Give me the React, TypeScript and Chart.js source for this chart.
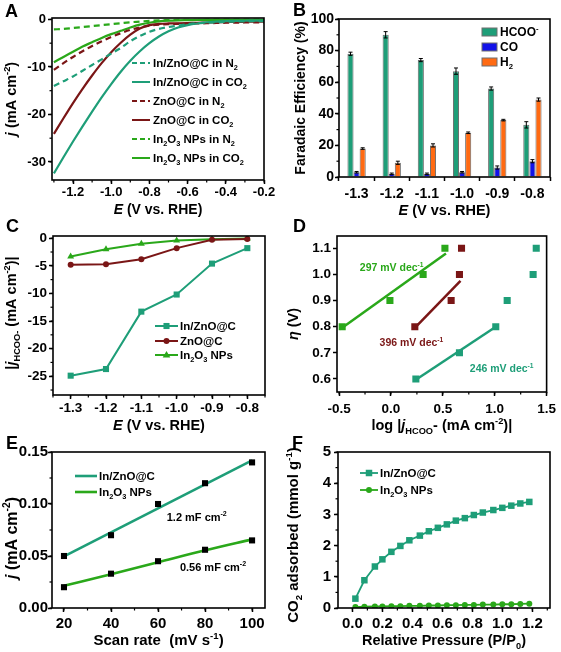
import React, { useEffect, useRef } from 'react';
import { Chart, registerables } from 'chart.js';
Chart.register(...registerables);

// ---------------- DATA ----------------
// Panel A (LSV)
const A_POT = [-1.3, -1.25, -1.2, -1.15, -1.1, -1.05, -1.0, -0.95, -0.9, -0.85, -0.8, -0.75, -0.7, -0.65, -0.6, -0.55, -0.5, -0.45, -0.4, -0.35, -0.3, -0.25, -0.2];
const A_INZNO_N2 = [-14.0, -13.0, -12.0, -10.8, -9.6, -8.4, -7.2, -6.0, -4.6, -3.5, -2.6, -2.0, -1.6, -1.3, -1.0, -0.8, -0.7, -0.6, -0.5, -0.45, -0.4, -0.38, -0.35];
const A_INZNO_CO2 = [-32.4, -29.0, -25.7, -22.5, -19.4, -16.4, -13.6, -11.0, -8.7, -6.7, -5.0, -3.6, -2.5, -1.7, -1.2, -0.85, -0.6, -0.45, -0.35, -0.3, -0.28, -0.25, -0.25];
const A_ZNO_N2 = [-10.6, -9.2, -7.9, -6.7, -5.6, -4.6, -3.7, -2.9, -2.2, -1.7, -1.3, -1.1, -1.0, -0.95, -0.9, -0.85, -0.8, -0.75, -0.7, -0.68, -0.65, -0.62, -0.6];
const A_ZNO_CO2 = [-24.1, -20.8, -17.6, -14.6, -11.8, -9.2, -6.9, -4.9, -3.2, -1.9, -1.2, -0.95, -0.85, -0.8, -0.75, -0.7, -0.65, -0.6, -0.55, -0.5, -0.5, -0.45, -0.45];
const A_IN2O3_N2 = [-2.1, -2.0, -1.8, -1.6, -1.4, -1.2, -1.0, -0.8, -0.6, -0.45, -0.3, -0.2, -0.15, -0.1, -0.1, -0.08, -0.06, -0.05, -0.05, -0.05, -0.05, -0.05, -0.05];
const A_IN2O3_CO2 = [-9.0, -7.9, -6.8, -5.7, -4.8, -3.9, -3.1, -2.4, -1.7, -1.1, -0.7, -0.4, -0.25, -0.18, -0.15, -0.12, -0.1, -0.1, -0.1, -0.1, -0.1, -0.1, -0.1];
const A_XTICKS = [-1.2, -1.0, -0.8, -0.6, -0.4, -0.2];
const A_YTICKS = [0, -10, -20, -30];
const A_LABELS = ['In/ZnO@C in N_{2}', 'In/ZnO@C in CO_{2}', 'ZnO@C in N_{2}', 'ZnO@C in CO_{2}', 'In_{2}O_{3} NPs in N_{2}', 'In_{2}O_{3} NPs in CO_{2}'];

// Panel B (Faradaic efficiency)
const B_CATS = ['-1.3', '-1.2', '-1.1', '-1.0', '-0.9', '-0.8'];
const B_HCOO = [78, 90, 74, 67, 56, 33];
const B_HCOO_ERR = [1, 2, 1, 2, 1, 2];
const B_CO = [3, 2, 2, 3, 6, 10];
const B_CO_ERR = [0.5, 0.5, 0.5, 0.5, 1, 1];
const B_H2 = [18, 9, 20, 28, 36, 49];
const B_H2_ERR = [0.5, 1, 1, 0.5, 0.5, 1];
const B_YTICKS = [0, 20, 40, 60, 80, 100];
const B_LABELS = ['HCOO^{-}', 'CO', 'H_{2}'];

// Panel C (partial current density)
const C_POT = [-1.3, -1.2, -1.1, -1.0, -0.9, -0.8];
const C_INZNO = [-24.9, -23.7, -13.3, -10.2, -4.6, -1.8];
const C_ZNO = [-4.8, -4.7, -3.8, -1.8, -0.3, -0.15];
const C_IN2O3 = [-3.3, -2.0, -1.0, -0.4, -0.2, -0.05];
const C_XTICKS = [-1.3, -1.2, -1.1, -1.0, -0.9, -0.8];
const C_YTICKS = [0, -5, -10, -15, -20, -25];
const C_LABELS = ['In/ZnO@C', 'ZnO@C', 'In_{2}O_{3} NPs'];

// Panel D (Tafel)
const D_LOG_IN2O3 = [-0.47, -0.01, 0.31, 0.52];
const D_ETA_IN2O3 = [0.8, 0.9, 1.0, 1.1];
const D_LOG_ZNO = [0.23, 0.58, 0.66, 0.68];
const D_ETA_ZNO = [0.8, 0.9, 1.0, 1.1];
const D_LOG_INZNO = [0.24, 0.66, 1.01, 1.12, 1.37, 1.4];
const D_ETA_INZNO = [0.6, 0.7, 0.8, 0.9, 1.0, 1.1];
const D_FIT_IN2O3_X = [-0.49, 0.53];
const D_FIT_IN2O3_Y = [0.79, 1.08];
const D_FIT_ZNO_X = [0.23, 0.67];
const D_FIT_ZNO_Y = [0.795, 0.975];
const D_FIT_INZNO_X = [0.24, 1.0];
const D_FIT_INZNO_Y = [0.597, 0.797];
const D_XTICKS = [-0.5, 0, 0.5, 1.0, 1.5];
const D_YTICKS = [0.6, 0.7, 0.8, 0.9, 1.0, 1.1];
const D_NOTES = ['297 mV dec^{-1}', '396 mV dec^{-1}', '246 mV dec^{-1}'];
const D_NOTE_X = [-0.3, -0.11, 0.76];
const D_NOTE_Y = [1.026, 0.74, 0.64];

// Panel E (double layer capacitance)
const E_RATE = [20, 40, 60, 80, 100];
const E_INZNO = [0.05, 0.07, 0.10, 0.12, 0.14];
const E_IN2O3 = [0.02, 0.033, 0.045, 0.056, 0.065];
const E_FIT_INZNO_X = [20, 100];
const E_FIT_INZNO_Y = [0.0496, 0.142];
const E_FIT_IN2O3 = [0.0214, 0.0325, 0.044, 0.0555, 0.066];
const E_XTICKS = [20, 40, 60, 80, 100];
const E_YTICKS = [0, 0.05, 0.10, 0.15];
const E_LABELS = ['In/ZnO@C', 'In_{2}O_{3} NPs'];
const E_NOTES = ['1.2 mF cm^{-2}', '0.56 mF cm^{-2}'];
const E_NOTE_X = [63.7, 69.3];
const E_NOTE_Y = [0.0875, 0.0394];

// Panel F (CO2 adsorption)
const F_P = [0.02, 0.08, 0.15, 0.2, 0.26, 0.32, 0.38, 0.45, 0.51, 0.57, 0.63, 0.69, 0.75, 0.81, 0.87, 0.94, 1.0, 1.06, 1.12, 1.18];
const F_INZNO = [0.30, 0.89, 1.33, 1.56, 1.80, 1.99, 2.17, 2.32, 2.46, 2.57, 2.68, 2.80, 2.88, 2.98, 3.06, 3.14, 3.21, 3.28, 3.35, 3.40];
const F_IN2O3 = [0.03, 0.04, 0.05, 0.05, 0.06, 0.06, 0.07, 0.07, 0.08, 0.08, 0.09, 0.09, 0.10, 0.10, 0.11, 0.11, 0.12, 0.12, 0.13, 0.14];
const F_XTICKS = [0, 0.2, 0.4, 0.6, 0.8, 1.0, 1.2];
const F_YTICKS = [0, 1, 2, 3, 4, 5];
const F_LABELS = ['In/ZnO@C', 'In_{2}O_{3} NPs'];

// ---------------- STYLE ----------------
const FONT = '"Liberation Sans", Arial, Helvetica, sans-serif';
const TEAL = '#1e9e78';
const MAROON = '#7a1616';
const GREEN = '#2aa81a';
const BLUE = '#1212e8';
const ORANGE = '#ff6a12';

type Box = { x: number; y: number; w: number; h: number };
type Area = { l: number; t: number; r: number; b: number };

const zip = (xs: number[], ys: number[]) => xs.map((x, i) => ({ x, y: ys[i] }));

type Seg = { t: string; it: boolean; sup: boolean; sub: boolean };
function parseRich(s: string): Seg[] {
  const out: Seg[] = [];
  let it = false;
  let buf = '';
  let i = 0;
  const push = (t: string, sup: boolean, sub: boolean) => {
    if (t) out.push({ t, it, sup, sub });
  };
  while (i < s.length) {
    const c = s[i];
    if (c === '*') {
      push(buf, false, false);
      buf = '';
      it = !it;
      i++;
      continue;
    }
    if ((c === '_' || c === '^') && s[i + 1] === '{') {
      push(buf, false, false);
      buf = '';
      const end = s.indexOf('}', i);
      push(s.slice(i + 2, end), c === '^', c === '_');
      i = end + 1;
      continue;
    }
    buf += c;
    i++;
  }
  push(buf, false, false);
  return out;
}

function drawRich(ctx: CanvasRenderingContext2D, text: string, x: number, y: number, size: number, color: string, align: 'left' | 'center', rot = false) {
  const segs = parseRich(text);
  const font = (s: Seg) => `${s.it ? 'italic ' : ''}bold ${s.sup || s.sub ? size * 0.64 : size}px ${FONT}`;
  ctx.save();
  ctx.translate(x, y);
  if (rot) ctx.rotate(-Math.PI / 2);
  let w = 0;
  for (const s of segs) {
    ctx.font = font(s);
    w += ctx.measureText(s.t).width;
  }
  let cx = align === 'center' ? -w / 2 : 0;
  ctx.fillStyle = color;
  ctx.textAlign = 'left';
  ctx.textBaseline = 'alphabetic';
  const base = size * 0.36;
  for (const s of segs) {
    ctx.font = font(s);
    const dy = s.sup ? -size * 0.42 : s.sub ? size * 0.26 : 0;
    ctx.fillText(s.t, cx, base + dy);
    cx += ctx.measureText(s.t).width;
  }
  ctx.restore();
}

function drawMarker(ctx: CanvasRenderingContext2D, kind: string, x: number, y: number, r: number, color: string) {
  ctx.save();
  ctx.fillStyle = color;
  ctx.beginPath();
  if (kind === 'rect') {
    const s = r * Math.SQRT1_2;
    ctx.rect(x - s, y - s, 2 * s, 2 * s);
  } else if (kind === 'circle') {
    ctx.arc(x, y, r, 0, Math.PI * 2);
  } else if (kind === 'triangle') {
    ctx.moveTo(x, y - r);
    ctx.lineTo(x + r * 0.95, y + r * 0.6);
    ctx.lineTo(x - r * 0.95, y + r * 0.6);
    ctx.closePath();
  }
  ctx.fill();
  ctx.restore();
}

type LegendItem = { kind: 'line' | 'box'; color: string; text: string; dash?: number[]; width?: number; marker?: string; mr?: number };
type Note = { x: number; y: number; text: string; color: string };

type DecoOpts = {
  box: Box;
  letter: string;
  letterAt: [number, number];
  xTitle: string;
  xTitleY: number;
  xTitleSize: number;
  yTitle: string;
  yTitleX: number;
  yTitleY: number;
  yTitleSize: number;
  minorX?: number;
  minorY?: number;
  legend: LegendItem[];
  legendRows: number[];
  legendX0: number;
  legendX1: number;
  legendTextX: number;
  legendSize: number;
  notes?: Note[];
  noteSize?: number;
  errors?: number[][];
};

function deco(o: DecoOpts) {
  return {
    id: 'deco' + o.letter,
    afterDatasetsDraw(chart: any) {
      if (!o.errors) return;
      const ctx: CanvasRenderingContext2D = chart.ctx;
      const ys = chart.scales.y;
      ctx.save();
      ctx.strokeStyle = '#000';
      ctx.lineWidth = 1;
      o.errors.forEach((errs, d) => {
        const meta = chart.getDatasetMeta(d);
        const vals = chart.data.datasets[d].data as number[];
        meta.data.forEach((el: any, i: number) => {
          const v = vals[i];
          const e = errs[i];
          const y1 = ys.getPixelForValue(v + e);
          const y2 = ys.getPixelForValue(v - e);
          ctx.beginPath();
          ctx.moveTo(el.x, y1);
          ctx.lineTo(el.x, y2);
          ctx.moveTo(el.x - 2, y1);
          ctx.lineTo(el.x + 2, y1);
          ctx.moveTo(el.x - 2, y2);
          ctx.lineTo(el.x + 2, y2);
          ctx.stroke();
        });
      });
      ctx.restore();
    },
    afterDraw(chart: any) {
      const ctx: CanvasRenderingContext2D = chart.ctx;
      const { left, top, right, bottom } = chart.chartArea;
      const ox = o.box.x;
      const oy = o.box.y;
      ctx.save();
      // frame
      ctx.strokeStyle = '#000';
      ctx.lineWidth = 1.6;
      ctx.strokeRect(left, top, right - left, bottom - top);
      // minor ticks
      ctx.lineWidth = 1.2;
      const minor = (scale: any, step: number, horiz: boolean) => {
        const k0 = Math.ceil(scale.min / step - 1e-6);
        for (let k = k0; k * step <= scale.max + 1e-6; k++) {
          const p = scale.getPixelForValue(k * step);
          ctx.beginPath();
          if (horiz) {
            ctx.moveTo(p, bottom);
            ctx.lineTo(p, bottom + 2.5);
          } else {
            ctx.moveTo(left, p);
            ctx.lineTo(left - 2.5, p);
          }
          ctx.stroke();
        }
      };
      if (o.minorX) minor(chart.scales.x, o.minorX, true);
      if (o.minorY) minor(chart.scales.y, o.minorY, false);
      // panel letter
      drawRich(ctx, o.letter, o.letterAt[0] - ox, o.letterAt[1] - oy, 18, '#000', 'left');
      // axis titles
      drawRich(ctx, o.xTitle, (left + right) / 2, o.xTitleY - oy, o.xTitleSize, '#000', 'center');
      drawRich(ctx, o.yTitle, o.yTitleX - ox, o.yTitleY - oy, o.yTitleSize, '#000', 'center', true);
      // legend
      o.legend.forEach((it, i) => {
        const y = o.legendRows[i] - oy;
        const x0 = o.legendX0 - ox;
        const x1 = o.legendX1 - ox;
        if (it.kind === 'box') {
          ctx.fillStyle = it.color;
          ctx.fillRect(x0, y - 4, x1 - x0, 8);
          ctx.strokeStyle = '#6f6f6f';
          ctx.lineWidth = 1;
          ctx.strokeRect(x0, y - 4, x1 - x0, 8);
        } else {
          ctx.strokeStyle = it.color;
          ctx.lineWidth = it.width || 2;
          ctx.setLineDash(it.dash || []);
          ctx.beginPath();
          ctx.moveTo(x0, y);
          ctx.lineTo(x1, y);
          ctx.stroke();
          ctx.setLineDash([]);
          if (it.marker) drawMarker(ctx, it.marker, (x0 + x1) / 2, y, it.mr || 4, it.color);
        }
        drawRich(ctx, it.text, o.legendTextX - ox, y, o.legendSize, '#000', 'left');
      });
      // annotations in data coordinates
      (o.notes || []).forEach((n) => {
        const x = chart.scales.x.getPixelForValue(n.x);
        const y = chart.scales.y.getPixelForValue(n.y);
        drawRich(ctx, n.text, x, y, o.noteSize || 11, n.color, 'left');
      });
      ctx.restore();
    },
  };
}

const gridOpt = {
  display: true,
  drawOnChartArea: false,
  drawTicks: true,
  tickLength: 4,
  tickWidth: 1.5,
  tickColor: '#000',
  color: '#000',
};

function lin(kind: 'x' | 'y', min: number, max: number, ticks: number[], digits: number, fit: number, fs: number, pad: number) {
  return {
    type: 'linear',
    position: kind === 'x' ? 'bottom' : 'left',
    min,
    max,
    afterBuildTicks: (s: any) => {
      s.ticks = ticks.map((v) => ({ value: v }));
    },
    afterFit: (s: any) => {
      if (kind === 'x') s.height = fit;
      else s.width = fit;
    },
    ticks: {
      autoSkip: false,
      maxRotation: 0,
      minRotation: 0,
      padding: pad,
      color: '#000',
      font: { family: FONT, size: fs, weight: 'bold' },
      callback: (v: any) => Number(v).toFixed(digits),
    },
    grid: gridOpt,
    border: { display: false },
    title: { display: false },
  };
}

function baseOptions(box: Box, area: Area, scales: any) {
  return {
    responsive: false,
    maintainAspectRatio: false,
    animation: false,
    devicePixelRatio: 1,
    events: [],
    layout: {
      autoPadding: false,
      padding: { left: 0, bottom: 0, top: area.t - box.y, right: box.x + box.w - area.r },
    },
    plugins: { legend: { display: false }, tooltip: { enabled: false }, title: { display: false } },
    scales,
  };
}

// ---------------- PANELS ----------------
const BOX_A: Box = { x: 0, y: 0, w: 280, h: 228 };
const AREA_A: Area = { l: 52, t: 18, r: 264, b: 180 };
const BOX_B: Box = { x: 280, y: 0, w: 281, h: 228 };
const AREA_B: Area = { l: 339, t: 19, r: 550, b: 177 };
const BOX_C: Box = { x: 0, y: 215, w: 280, h: 228 };
const AREA_C: Area = { l: 53, t: 236, r: 265, b: 395 };
const BOX_D: Box = { x: 280, y: 215, w: 281, h: 228 };
const AREA_D: Area = { l: 337, t: 236, r: 550, b: 392 };
const BOX_E: Box = { x: 0, y: 430, w: 280, h: 222 };
const AREA_E: Area = { l: 52, t: 452, r: 265, b: 608 };
const BOX_F: Box = { x: 280, y: 430, w: 281, h: 222 };
const AREA_F: Area = { l: 338, t: 452, r: 550, b: 608 };

const fitW = (box: Box, a: Area) => a.l - box.x;
const fitH = (box: Box, a: Area) => box.y + box.h - a.b;

function lsv(data: number[], color: string, dashed: boolean) {
  return {
    data: zip(A_POT, data),
    borderColor: color,
    borderWidth: 2.2,
    borderDash: dashed ? [6, 4] : [],
    pointRadius: 0,
    fill: false,
    cubicInterpolationMode: 'monotone',
  };
}

function makeA() {
  return {
    type: 'line',
    data: {
      datasets: [
        lsv(A_INZNO_N2, TEAL, true),
        lsv(A_INZNO_CO2, TEAL, false),
        lsv(A_ZNO_N2, MAROON, true),
        lsv(A_ZNO_CO2, MAROON, false),
        lsv(A_IN2O3_N2, GREEN, true),
        lsv(A_IN2O3_CO2, GREEN, false),
      ],
    },
    options: baseOptions(BOX_A, AREA_A, {
      x: lin('x', -1.31, -0.2, A_XTICKS, 1, fitH(BOX_A, AREA_A), 13, 1),
      y: lin('y', -33.8, 0.3, A_YTICKS, 0, fitW(BOX_A, AREA_A), 13, 2),
    }),
    plugins: [
      deco({
        box: BOX_A, letter: 'A', letterAt: [5, 11],
        xTitle: '*E* (V vs. RHE)', xTitleY: 209, xTitleSize: 14,
        yTitle: '*j* (mA cm^{-2})', yTitleX: 11, yTitleY: 99, yTitleSize: 14.5,
        minorX: 0.1, minorY: 5,
        legend: [
          { kind: 'line', color: TEAL, dash: [5, 3], text: A_LABELS[0] },
          { kind: 'line', color: TEAL, text: A_LABELS[1] },
          { kind: 'line', color: MAROON, dash: [5, 3], text: A_LABELS[2] },
          { kind: 'line', color: MAROON, text: A_LABELS[3] },
          { kind: 'line', color: GREEN, dash: [5, 3], text: A_LABELS[4] },
          { kind: 'line', color: GREEN, text: A_LABELS[5] },
        ],
        legendRows: [63, 82, 101, 120, 139, 158], legendX0: 132, legendX1: 150, legendTextX: 153, legendSize: 11.5,
      }),
    ],
  };
}

function makeB() {
  const bar = (label: string, data: number[], color: string) => ({
    label, data, backgroundColor: color, borderColor: '#6a6a6a', borderWidth: 1,
    categoryPercentage: 0.52, barPercentage: 1.0,
  });
  return {
    type: 'bar',
    data: {
      labels: B_CATS,
      datasets: [bar('HCOO-', B_HCOO, TEAL), bar('CO', B_CO, BLUE), bar('H2', B_H2, ORANGE)],
    },
    options: baseOptions(BOX_B, AREA_B, {
      x: {
        type: 'category', position: 'bottom', offset: true,
        afterFit: (s: any) => { s.height = fitH(BOX_B, AREA_B); },
        ticks: { autoSkip: false, maxRotation: 0, minRotation: 0, padding: 5, color: '#000', font: { family: FONT, size: 14, weight: 'bold' } },
        grid: { ...gridOpt, offset: true },
        border: { display: false },
      },
      y: lin('y', 0, 100, B_YTICKS, 0, fitW(BOX_B, AREA_B), 14, 1),
    }),
    plugins: [
      deco({
        box: BOX_B, letter: 'B', letterAt: [293, 10],
        xTitle: '*E* (V vs. RHE)', xTitleY: 210, xTitleSize: 14.5,
        yTitle: 'Faradaic Efficiency (%)', yTitleX: 300, yTitleY: 98, yTitleSize: 14,
        minorY: 10,
        legend: [
          { kind: 'box', color: TEAL, text: B_LABELS[0] },
          { kind: 'box', color: BLUE, text: B_LABELS[1] },
          { kind: 'box', color: ORANGE, text: B_LABELS[2] },
        ],
        legendRows: [32, 47, 62], legendX0: 482, legendX1: 497, legendTextX: 500, legendSize: 12,
        errors: [B_HCOO_ERR, B_CO_ERR, B_H2_ERR],
      }),
    ],
  };
}

function makeC() {
  const ser = (data: number[], color: string, style: string, r: number) => ({
    data: zip(C_POT, data), borderColor: color, backgroundColor: color, borderWidth: 2,
    pointStyle: style, pointRadius: r, pointBorderWidth: 0, fill: false, tension: 0,
  });
  return {
    type: 'line',
    data: {
      datasets: [
        ser(C_INZNO, TEAL, 'rect', 4.3),
        ser(C_ZNO, MAROON, 'circle', 3),
        ser(C_IN2O3, GREEN, 'triangle', 4),
      ],
    },
    options: baseOptions(BOX_C, AREA_C, {
      x: lin('x', -1.35, -0.75, C_XTICKS, 1, fitH(BOX_C, AREA_C), 13.5, 1),
      y: lin('y', -28.4, 0.4, C_YTICKS, 0, fitW(BOX_C, AREA_C), 13.5, 2),
    }),
    plugins: [
      deco({
        box: BOX_C, letter: 'C', letterAt: [6, 226],
        xTitle: '*E* (V vs. RHE)', xTitleY: 425, xTitleSize: 14.5,
        yTitle: '|*j*_{HCOO-} (mA cm^{-2})|', yTitleX: 11, yTitleY: 313, yTitleSize: 14.5,
        minorX: 0.05, minorY: 2.5,
        legend: [
          { kind: 'line', color: TEAL, marker: 'rect', mr: 4.3, text: C_LABELS[0] },
          { kind: 'line', color: MAROON, marker: 'circle', mr: 3, text: C_LABELS[1] },
          { kind: 'line', color: GREEN, marker: 'triangle', mr: 4, text: C_LABELS[2] },
        ],
        legendRows: [326, 341, 355], legendX0: 155, legendX1: 178, legendTextX: 180, legendSize: 11.5,
      }),
    ],
  };
}

function makeD() {
  const pts = (xs: number[], ys: number[], color: string) => ({
    data: zip(xs, ys), showLine: false, backgroundColor: color, borderColor: color,
    pointStyle: 'rect', pointRadius: 5, pointBorderWidth: 0, order: 0,
  });
  const fit = (xs: number[], ys: number[], color: string) => ({
    data: zip(xs, ys), borderColor: color, borderWidth: 2.5, pointRadius: 0, fill: false, order: 1,
  });
  return {
    type: 'line',
    data: {
      datasets: [
        pts(D_LOG_IN2O3, D_ETA_IN2O3, GREEN),
        pts(D_LOG_ZNO, D_ETA_ZNO, MAROON),
        pts(D_LOG_INZNO, D_ETA_INZNO, TEAL),
        fit(D_FIT_IN2O3_X, D_FIT_IN2O3_Y, GREEN),
        fit(D_FIT_ZNO_X, D_FIT_ZNO_Y, MAROON),
        fit(D_FIT_INZNO_X, D_FIT_INZNO_Y, TEAL),
      ],
    },
    options: baseOptions(BOX_D, AREA_D, {
      x: lin('x', -0.52, 1.5, D_XTICKS, 1, fitH(BOX_D, AREA_D), 13.5, 5),
      y: lin('y', 0.55, 1.147, D_YTICKS, 1, fitW(BOX_D, AREA_D), 13.5, 2),
    }),
    plugins: [
      deco({
        box: BOX_D, letter: 'D', letterAt: [293, 226],
        xTitle: 'log |*j*_{HCOO}- (mA cm^{-2})|', xTitleY: 425, xTitleSize: 14.5,
        yTitle: '*η* (V)', yTitleX: 293, yTitleY: 324, yTitleSize: 14.5,
        minorX: 0.25,
        legend: [], legendRows: [], legendX0: 0, legendX1: 0, legendTextX: 0, legendSize: 11,
        notes: [
          { x: D_NOTE_X[0], y: D_NOTE_Y[0], text: D_NOTES[0], color: GREEN },
          { x: D_NOTE_X[1], y: D_NOTE_Y[1], text: D_NOTES[1], color: MAROON },
          { x: D_NOTE_X[2], y: D_NOTE_Y[2], text: D_NOTES[2], color: TEAL },
        ],
        noteSize: 10.5,
      }),
    ],
  };
}

function makeE() {
  return {
    type: 'line',
    data: {
      datasets: [
        { data: zip(E_RATE, E_INZNO), showLine: false, backgroundColor: '#000', borderColor: '#000', pointStyle: 'rect', pointRadius: 4.3, pointBorderWidth: 0, order: 0 },
        { data: zip(E_RATE, E_IN2O3), showLine: false, backgroundColor: '#000', borderColor: '#000', pointStyle: 'rect', pointRadius: 4.3, pointBorderWidth: 0, order: 0 },
        { data: zip(E_FIT_INZNO_X, E_FIT_INZNO_Y), borderColor: TEAL, borderWidth: 2.6, pointRadius: 0, fill: false, order: 1 },
        { data: zip(E_RATE, E_FIT_IN2O3), borderColor: GREEN, borderWidth: 2.6, pointRadius: 0, fill: false, cubicInterpolationMode: 'monotone', order: 1 },
      ],
    },
    options: baseOptions(BOX_E, AREA_E, {
      x: lin('x', 14.9, 105.5, E_XTICKS, 0, fitH(BOX_E, AREA_E), 15, 3),
      y: lin('y', 0, 0.15, E_YTICKS, 2, fitW(BOX_E, AREA_E), 15, 0),
    }),
    plugins: [
      deco({
        box: BOX_E, letter: 'E', letterAt: [6, 443],
        xTitle: 'Scan rate  (mV s^{-1})', xTitleY: 640, xTitleSize: 15,
        yTitle: '*j* (mA cm^{-2})', yTitleX: 11, yTitleY: 538, yTitleSize: 16,
        minorX: 10, minorY: 0.025,
        legend: [
          { kind: 'line', color: TEAL, width: 2.6, text: E_LABELS[0] },
          { kind: 'line', color: GREEN, width: 2.6, text: E_LABELS[1] },
        ],
        legendRows: [476, 492], legendX0: 75, legendX1: 97, legendTextX: 99, legendSize: 11.5,
        notes: [
          { x: E_NOTE_X[0], y: E_NOTE_Y[0], text: E_NOTES[0], color: '#000' },
          { x: E_NOTE_X[1], y: E_NOTE_Y[1], text: E_NOTES[1], color: '#000' },
        ],
        noteSize: 11,
      }),
    ],
  };
}

function makeF() {
  return {
    type: 'line',
    data: {
      datasets: [
        { data: zip(F_P, F_INZNO), borderColor: TEAL, backgroundColor: TEAL, borderWidth: 1.8, pointStyle: 'rect', pointRadius: 4.6, pointBorderWidth: 0, fill: false, tension: 0 },
        { data: zip(F_P, F_IN2O3), borderColor: GREEN, backgroundColor: GREEN, borderWidth: 1.8, pointStyle: 'circle', pointRadius: 3, pointBorderWidth: 0, fill: false, tension: 0 },
      ],
    },
    options: baseOptions(BOX_F, AREA_F, {
      x: lin('x', -0.096, 1.318, F_XTICKS, 1, fitH(BOX_F, AREA_F), 15, 3),
      y: lin('y', 0, 5, F_YTICKS, 0, fitW(BOX_F, AREA_F), 15, 3),
    }),
    plugins: [
      deco({
        box: BOX_F, letter: 'F', letterAt: [292, 443],
        xTitle: 'Relative Pressure (P/P_{0})', xTitleY: 640, xTitleSize: 14.5,
        yTitle: 'CO_{2} adsorbed (mmol g^{-1})', yTitleX: 293, yTitleY: 535, yTitleSize: 15,
        minorX: 0.1, minorY: 0.5,
        legend: [
          { kind: 'line', color: TEAL, width: 1.8, marker: 'rect', mr: 4.6, text: F_LABELS[0] },
          { kind: 'line', color: GREEN, width: 1.8, marker: 'circle', mr: 3, text: F_LABELS[1] },
        ],
        legendRows: [473, 490], legendX0: 360, legendX1: 378, legendTextX: 380, legendSize: 11.5,
      }),
    ],
  };
}

function ChartPanel({ box, make }: { box: Box; make: () => any }) {
  const ref = useRef<HTMLCanvasElement>(null);
  useEffect(() => {
    const chart = new Chart(ref.current as HTMLCanvasElement, make());
    return () => chart.destroy();
  }, []);
  return (
    <canvas
      ref={ref}
      width={box.w}
      height={box.h}
      style={{ position: 'absolute', left: box.x, top: box.y, width: box.w, height: box.h }}
    />
  );
}

export default function App() {
  return (
    <div style={{ position: 'absolute', left: 0, top: 0, width: 561, height: 652, background: '#fff', overflow: 'hidden' }}>
      <ChartPanel box={BOX_A} make={makeA} />
      <ChartPanel box={BOX_B} make={makeB} />
      <ChartPanel box={BOX_C} make={makeC} />
      <ChartPanel box={BOX_D} make={makeD} />
      <ChartPanel box={BOX_E} make={makeE} />
      <ChartPanel box={BOX_F} make={makeF} />
    </div>
  );
}
